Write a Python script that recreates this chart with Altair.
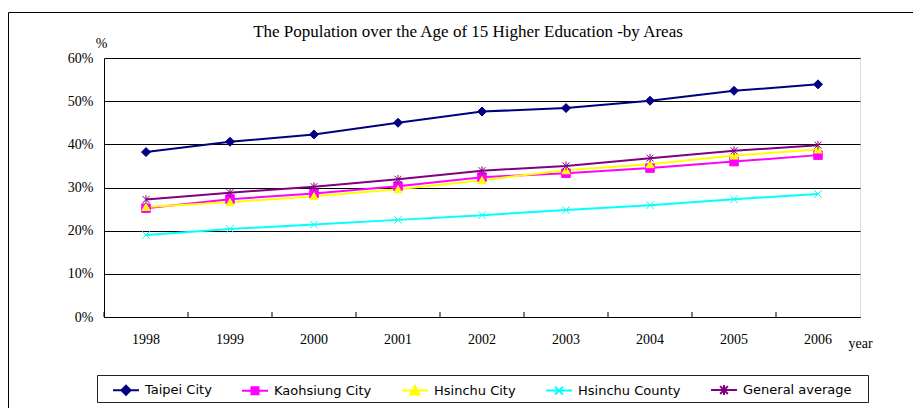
import altair as alt
import pandas as pd

years = ["1998", "1999", "2000", "2001", "2002", "2003", "2004", "2005", "2006"]
series = ["Taipei City", "Kaohsiung City", "Hsinchu City", "Hsinchu County", "General average"]
taipei = [38.2, 40.6, 42.3, 45.0, 47.6, 48.4, 50.1, 52.4, 53.9]
kaohsiung = [25.2, 27.3, 28.6, 30.3, 32.4, 33.3, 34.5, 36.0, 37.5]
hsinchu_city = [25.5, 26.6, 28.0, 29.6, 31.7, 34.0, 35.4, 37.4, 38.8]
hsinchu_county = [19.0, 20.4, 21.4, 22.5, 23.6, 24.8, 25.9, 27.3, 28.5]
general_avg = [27.2, 28.8, 30.2, 31.9, 33.9, 35.0, 36.8, 38.5, 39.8]
y_ticks = [0, 10, 20, 30, 40, 50, 60]
title_text = "The Population over the Age of 15 Higher Education -by Areas"

colors = ["#000080", "#FF00FF", "#FFFF00", "#00FFFF", "#800080"]
plot_shapes = ["diamond", "square", "triangle-up",
               "M-1,-1L1,1M-1,1L1,-1",
               "M-1,-1L1,1M-1,1L1,-1M0,-1.25L0,1.25"]
plot_sizes = [81, 49, 81, 64, 64]
legend_shapes = [
    "M-1,0L1,0M0,-0.35L0.35,0L0,0.35L-0.35,0Z",
    "M-1,0L1,0M-0.27,-0.27L0.27,-0.27L0.27,0.27L-0.27,0.27Z",
    "M-1,0L1,0M0,-0.36L0.36,0.3L-0.36,0.3Z",
    "M-1,0L1,0M-0.3,-0.3L0.3,0.3M-0.3,0.3L0.3,-0.3",
    "M-1,0L1,0M-0.3,-0.3L0.3,0.3M-0.3,0.3L0.3,-0.3M0,-0.38L0,0.38",
]

rows = []
for name, vals in zip(series, [taipei, kaohsiung, hsinchu_city, hsinchu_county, general_avg]):
    for yr, v in zip(years, vals):
        rows.append({"year": yr, "series": name, "value": v})
df = pd.DataFrame(rows)
yr_df = pd.DataFrame({"year": years})
one = pd.DataFrame({"a": [0]})

W, H = 756, 259
serif = "Liberation Serif"

xscale = alt.Scale(type="band", domain=years, paddingInner=0, paddingOuter=0)
yscale = alt.Scale(domain=[0, 60])
cscale = alt.Scale(domain=series, range=colors)

x_axis = alt.Axis(title="year", titleFont=serif, titleFontSize=14, titleFontWeight="normal",
                  titleX=744, titleY=30, titleAlign="left", titleBaseline="alphabetic",
                  labelFont=serif, labelFontSize=14, labelColor="black", labelAngle=0,
                  labelPadding=15, tickSize=0, domainColor="black", grid=False)
y_axis = alt.Axis(values=y_ticks, labelExpr="datum.value + '%'", title="%",
                  titleAngle=0, titleX=-3, titleY=-11, titleAlign="center",
                  titleBaseline="alphabetic", titleFont=serif, titleFontSize=14,
                  titleFontWeight="normal", labelFont=serif, labelFontSize=14,
                  labelColor="black", labelPadding=11, tickSize=0,
                  domainColor="black", grid=True, gridColor="black", gridOpacity=1)

frame = alt.Chart(one).mark_rect(fillOpacity=0, stroke="black", strokeWidth=1).encode(
    x=alt.value(-95.5), x2=alt.value(900), y=alt.value(-45.5), y2=alt.value(400))

title = alt.Chart(one).mark_text(text=title_text, font=serif, fontSize=17, color="black",
                                 align="center", baseline="alphabetic").encode(
    x=alt.value(364), y=alt.value(-21))

legend_box = alt.Chart(one).mark_rect(fillOpacity=0, stroke="#222222", strokeWidth=1).encode(
    x=alt.value(-6.5), x2=alt.value(764.5), y=alt.value(317.5), y2=alt.value(344.5))

ticks = alt.Chart(yr_df).mark_rule(color="black", strokeWidth=1).encode(
    x=alt.X("year:O", bandPosition=0, scale=xscale, axis=x_axis),
    y=alt.value(H), y2=alt.value(H - 5))

lines = alt.Chart(df).mark_line(strokeWidth=2).encode(
    x=alt.X("year:O", bandPosition=0.5, scale=xscale, axis=x_axis),
    y=alt.Y("value:Q", scale=yscale, axis=y_axis),
    color=alt.Color("series:N", scale=cscale, legend=None, sort=series),
    detail="series:N")

points = alt.Chart(df).mark_point(filled=True, strokeWidth=1, opacity=1).encode(
    x=alt.X("year:O", bandPosition=0.5, scale=xscale, axis=x_axis),
    y=alt.Y("value:Q", scale=yscale, axis=y_axis),
    color=alt.Color("series:N", scale=cscale, legend=None),
    stroke=alt.Stroke("series:N", scale=cscale, legend=None),
    shape=alt.Shape("series:N", scale=alt.Scale(domain=series, range=plot_shapes), legend=None),
    size=alt.Size("series:N", scale=alt.Scale(domain=series, range=plot_sizes), legend=None))

leg = alt.Legend(orient="none", legendX=8, legendY=318, direction="horizontal", columns=5,
                 title=None, labelFont="DejaVu Sans", labelFontSize=13, labelColor="black",
                 labelOffset=5, columnPadding=26, symbolSize=676, symbolStrokeWidth=2,
                 padding=0, gridAlign="each")

legend_layer = alt.Chart(df).mark_point(filled=True, strokeWidth=2, opacity=1).encode(
    x=alt.value(-5000), y=alt.value(-5000),
    color=alt.Color("series:N", scale=cscale, legend=leg),
    stroke=alt.Stroke("series:N", scale=cscale, legend=leg),
    shape=alt.Shape("series:N", scale=alt.Scale(domain=series, range=legend_shapes), legend=leg),
    size=alt.value(676))

chart = alt.layer(frame, title, legend_box, ticks, lines, points, legend_layer).resolve_scale(
    color="independent", stroke="independent", shape="independent", size="independent"
).properties(
    width=W, height=H,
    padding={"left": 96, "top": 50, "right": 53, "bottom": 91},
    autosize=alt.AutoSizeParams(type="none"),
).configure_view(stroke="#808080", strokeWidth=1).configure(background="white")

chart.save("out.html", embed_options={"renderer": "svg", "actions": False})
